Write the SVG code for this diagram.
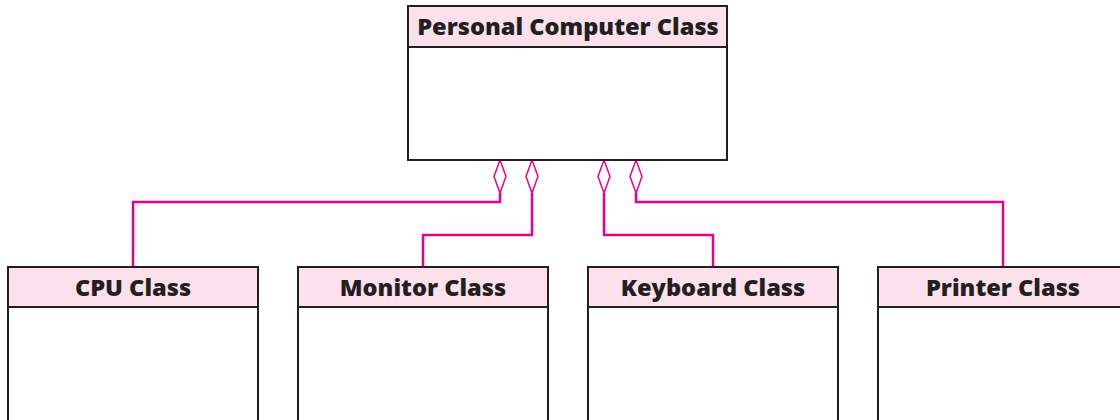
<svg xmlns="http://www.w3.org/2000/svg" width="1120" height="420" viewBox="0 0 1120 420">
<style>
.hdr{fill:#fce0ec;stroke:#231f20;stroke-width:2}
.body{fill:#ffffff;stroke:#231f20;stroke-width:2}
.lbl{font-family:"Open Sans","Liberation Sans",sans-serif;font-weight:800;font-size:23.6px;fill:#231f20;text-anchor:middle}
.conn{fill:none;stroke:#e8008c;stroke-width:2.5}
.dia{fill:#ffffff;stroke:#e8008c;stroke-width:1.5}
</style>
<rect width="1120" height="420" fill="#ffffff"/>
<g id="connectors">
<polyline class="conn" points="500,193 500,202 133,202 133,267"/>
<polyline class="conn" points="532,193 532,235 423,235 423,267"/>
<polyline class="conn" points="604,193 604,235 713,235 713,267"/>
<polyline class="conn" points="636,193 636,202 1003,202 1003,267"/>
<polygon class="dia" points="500,160 506,176.5 500,193 494,176.5"/>
<polygon class="dia" points="532,160 538,176.5 532,193 526,176.5"/>
<polygon class="dia" points="604,160 610,176.5 604,193 598,176.5"/>
<polygon class="dia" points="636,160 642,176.5 636,193 630,176.5"/>
</g>
<g id="pc">
<rect class="body" x="408" y="47" width="319" height="113"/>
<rect class="hdr" x="408" y="6" width="319" height="41"/>
<text class="lbl" x="568" y="35">Personal Computer Class</text>
</g>
<g id="cpu">
<rect class="body" x="8" y="307" width="250" height="120"/>
<rect class="hdr" x="8" y="267" width="250" height="40"/>
<text class="lbl" x="133" y="296">CPU Class</text>
</g>
<g id="monitor">
<rect class="body" x="298" y="307" width="250" height="120"/>
<rect class="hdr" x="298" y="267" width="250" height="40"/>
<text class="lbl" x="423" y="296">Monitor Class</text>
</g>
<g id="keyboard">
<rect class="body" x="588" y="307" width="250" height="120"/>
<rect class="hdr" x="588" y="267" width="250" height="40"/>
<text class="lbl" x="713" y="296">Keyboard Class</text>
</g>
<g id="printer">
<rect class="body" x="878" y="307" width="250" height="120"/>
<rect class="hdr" x="878" y="267" width="250" height="40"/>
<text class="lbl" x="1003" y="296">Printer Class</text>
</g>
</svg>
